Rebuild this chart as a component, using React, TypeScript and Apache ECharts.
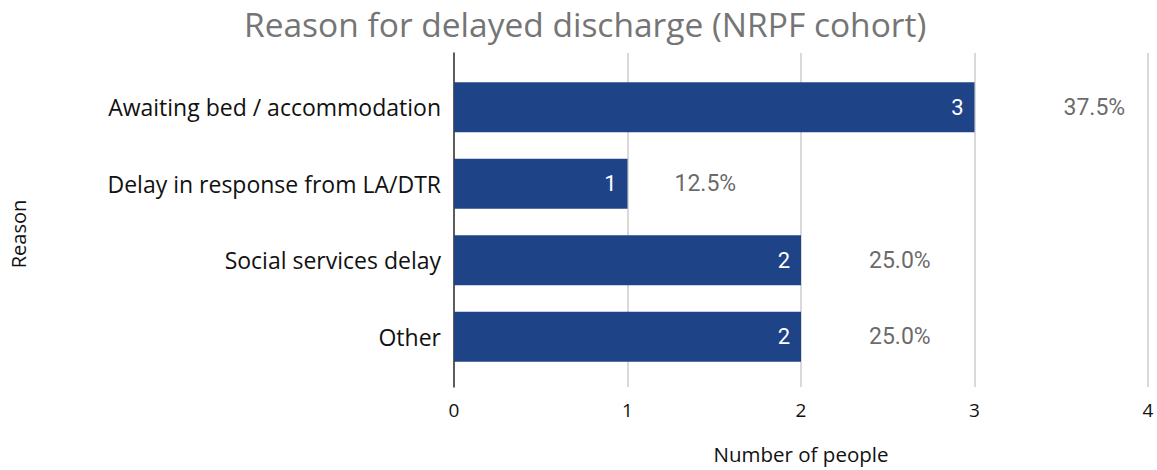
import React, { useEffect, useRef } from "react";
import * as echarts from "echarts";

const categories = [
  "Awaiting bed / accommodation",
  "Delay in response from LA/DTR",
  "Social services delay",
  "Other",
];
const counts = [3, 1, 2, 2];
const xTicks = [0, 1, 2, 3, 4];

const total = counts.reduce((a, b) => a + b, 0);
const percentLabels = counts.map((c) => ((c / total) * 100).toFixed(1) + "%");

const SIDE_FONT = "'Open Sans', sans-serif";
const ROBOTO = "Roboto, sans-serif";

export default function App() {
  const ref = useRef<HTMLDivElement>(null);
  useEffect(() => {
    if (!ref.current) return;
    const chart = echarts.init(ref.current, null, { renderer: "svg" });
    const option: any = {
      animation: false,
      backgroundColor: "#ffffff",
      title: {
        text: "Reason for delayed discharge (NRPF cohort)",
        left: 239,
        top: 2,
        textStyle: {
          color: "#757575",
          fontFamily: SIDE_FONT,
          fontSize: 33.5,
          fontWeight: "normal",
        },
      },
      graphic: [
        {
          type: "text",
          x: 18,
          y: 234,
          rotation: Math.PI / 2,
          style: {
            text: "Reason",
            fill: "#111",
            font: "20px 'Open Sans', sans-serif",
            align: "center",
            verticalAlign: "middle",
          },
        },
      ],
      grid: [
        { left: 454, right: 9, top: 69, height: 306 },
        { left: 454, right: 9, top: 53, height: 334 },
      ],
      xAxis: [
        {
          gridIndex: 0,
          type: "value",
          min: 0,
          max: 4,
          interval: 1,
          show: false,
        },
        {
          gridIndex: 1,
          type: "value",
          min: 0,
          max: 4,
          interval: 1,
          axisLine: { show: false },
          axisTick: { show: false },
          splitLine: { show: true, lineStyle: { color: "#cccccc", width: 1.5 } },
          axisLabel: {
            color: "#111",
            fontFamily: SIDE_FONT,
            fontSize: 19,
            margin: 13,
            formatter: (v: number) => (xTicks.includes(v) ? String(v) : ""),
          },
          name: "Number of people",
          nameLocation: "middle",
          nameGap: 56,
          nameTextStyle: { color: "#111", fontFamily: SIDE_FONT, fontSize: 20.5 },
        },
      ],
      yAxis: [
        {
          gridIndex: 0,
          type: "category",
          data: categories,
          inverse: true,
          axisLine: { show: false },
          axisTick: { show: false },
          axisLabel: {
            color: "#111",
            fontFamily: SIDE_FONT,
            fontSize: 23,
            margin: 13,
          },
        },
        {
          gridIndex: 1,
          type: "value",
          min: 0,
          max: 1,
          axisLine: { show: true, lineStyle: { color: "#333333", width: 1.5 } },
          axisTick: { show: false },
          axisLabel: { show: false },
          splitLine: { show: false },
        },
      ],
      series: [
        {
          type: "bar",
          xAxisIndex: 0,
          yAxisIndex: 0,
          data: counts,
          barWidth: 50,
          itemStyle: { color: "#1f4387" },
          label: {
            show: true,
            position: "insideRight",
            distance: 11,
            color: "#ffffff",
            fontFamily: ROBOTO,
            fontSize: 22,
          },
          z: 3,
        },
        {
          type: "scatter",
          xAxisIndex: 0,
          yAxisIndex: 0,
          symbolSize: 0,
          silent: true,
          data: counts.map((c, i) => ({
            value: [c, i],
            label: {
              show: true,
              position: "right",
              distance: 26 + 21 * c,
              formatter: percentLabels[i],
              color: "#424242",
              fontFamily: ROBOTO,
              fontSize: 23,
            },
          })),
          z: 4,
        },
      ],
    };
    chart.setOption(option);
    return () => chart.dispose();
  }, []);
  return (
    <div
      ref={ref}
      style={{ position: "fixed", left: 0, top: 0, width: 1157, height: 470 }}
    />
  );
}
